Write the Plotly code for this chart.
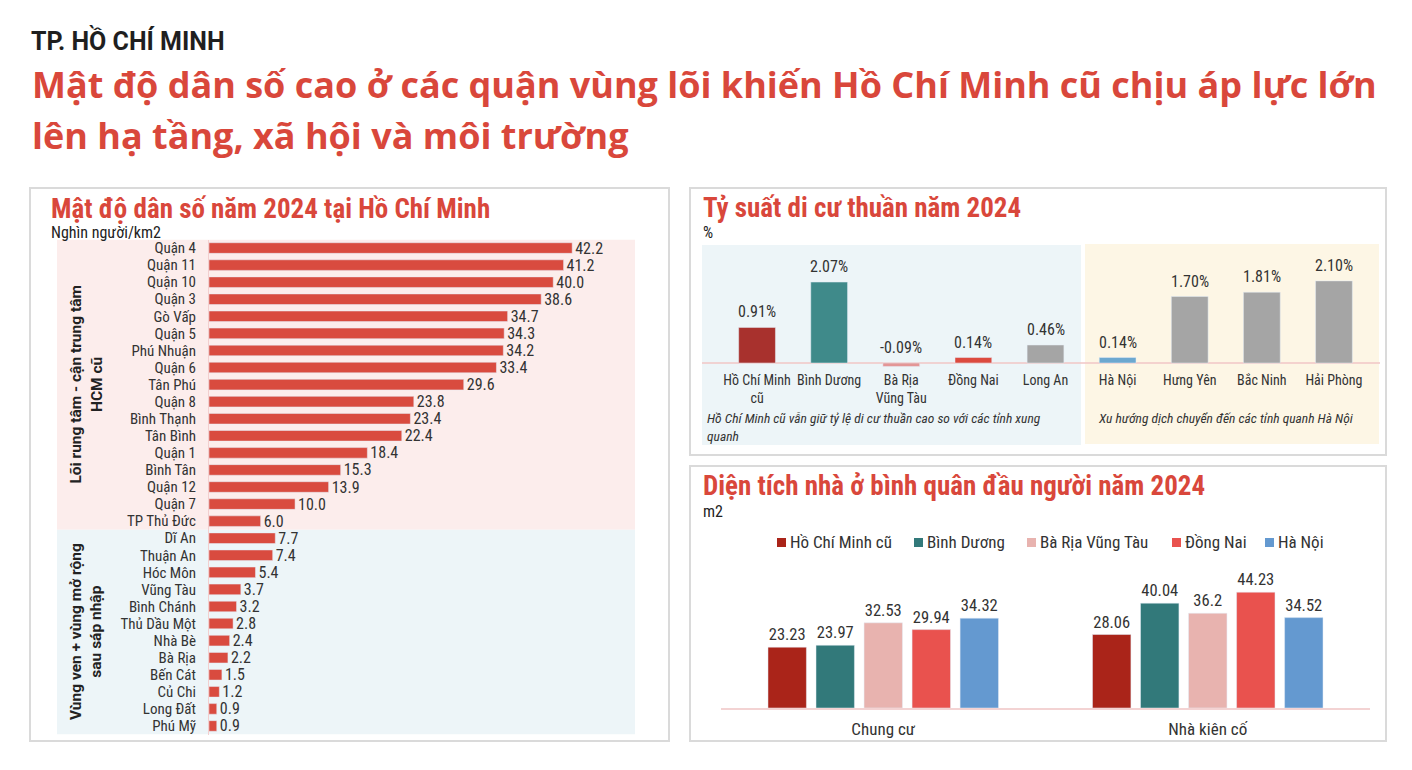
import plotly.graph_objects as go

W, H = 1412, 770
def px(x): return x / W
def py(y): return 1 - y / H

# ---------------- data ----------------
density_districts = ["Quận 4", "Quận 11", "Quận 10", "Quận 3", "Gò Vấp", "Quận 5", "Phú Nhuận",
                     "Quận 6", "Tân Phú", "Quận 8", "Bình Thạnh", "Tân Bình", "Quận 1", "Bình Tân",
                     "Quận 12", "Quận 7", "TP Thủ Đức", "Dĩ An", "Thuận An", "Hóc Môn", "Vũng Tàu",
                     "Bình Chánh", "Thủ Dầu Một", "Nhà Bè", "Bà Rịa", "Bến Cát", "Củ Chi",
                     "Long Đất", "Phú Mỹ"]
density_values = [42.2, 41.2, 40.0, 38.6, 34.7, 34.3, 34.2, 33.4, 29.6, 23.8, 23.4, 22.4, 18.4,
                  15.3, 13.9, 10.0, 6.0, 7.7, 7.4, 5.4, 3.7, 3.2, 2.8, 2.4, 2.2, 1.5, 1.2, 0.9, 0.9]
core_count = 17
group_labels = ["Lõi rung tâm - cận trung tâm<br>HCM cũ", "Vùng ven + vùng mở rộng<br>sau sáp nhập"]

migration_regions = ["Hồ Chí Minh<br>cũ", "Bình Dương", "Bà Rịa<br>Vũng Tàu", "Đồng Nai", "Long An",
                     "Hà Nội", "Hưng Yên", "Bắc Ninh", "Hải Phòng"]
migration_values = [0.91, 2.07, -0.09, 0.14, 0.46, 0.14, 1.70, 1.81, 2.10]
migration_colors = ["#A8312D", "#3F8A8A", "#E39696", "#DC4A3E", "#A5A5A5",
                    "#6CA8D0", "#A5A5A5", "#A5A5A5", "#A5A5A5"]

housing_types = ["Chung cư", "Nhà kiên cố"]
housing_series = ["Hồ Chí Minh cũ", "Bình Dương", "Bà Rịa Vũng Tàu", "Đồng Nai", "Hà Nội"]
housing_values = {
    "Hồ Chí Minh cũ": [23.23, 28.06],
    "Bình Dương": [23.97, 40.04],
    "Bà Rịa Vũng Tàu": [32.53, 36.2],
    "Đồng Nai": [29.94, 44.23],
    "Hà Nội": [34.32, 34.52],
}
housing_colors = ["#AA2419", "#32797A", "#E8B3AF", "#E9524E", "#6499D0"]

# ---------------- style ----------------
RED = "#D9473B"
TXT = "#333333"
COND = "Roboto Condensed, Liberation Sans Narrow, Roboto, sans-serif"

fig = go.Figure()

# Left: population density
fig.add_trace(go.Bar(
    x=density_values, y=density_districts, orientation="h",
    marker=dict(color="#D94B3F"), width=0.62,
    text=density_values, texttemplate="%{x:.1f}", textposition="outside",
    constraintext="none",
    textfont=dict(family=COND, size=16, color=TXT), cliponaxis=False,
    xaxis="x", yaxis="y", showlegend=False, hoverinfo="x+y"))

# Top right: net migration
fig.add_trace(go.Bar(
    x=migration_regions, y=migration_values, marker=dict(color=migration_colors), width=0.51,
    xaxis="x2", yaxis="y2", showlegend=False))

# Bottom right: housing area
for name, col in zip(housing_series, housing_colors):
    fig.add_trace(go.Bar(
        x=housing_types, y=housing_values[name], name=name, marker=dict(color=col),
        text=housing_values[name], texttemplate="%{y}", textposition="outside",
        constraintext="none", showlegend=False,
        textfont=dict(family=COND, size=16.5, color=TXT), cliponaxis=False,
        xaxis="x3", yaxis="y3"))

n = len(density_districts)
fig.update_layout(
    width=W, height=H, margin=dict(l=0, r=0, t=0, b=0),
    paper_bgcolor="white", plot_bgcolor="rgba(0,0,0,0)",
    barmode="group", bargap=0.26, bargroupgap=0.2,
    font=dict(family=COND, color=TXT),
    xaxis=dict(domain=[px(209), px(635)], range=[0, 49.5], visible=False, anchor="y"),
    yaxis=dict(domain=[py(734.5), py(239.5)], range=[n - 0.5, -0.5], anchor="x",
               tickmode="array", tickvals=density_districts, ticktext=density_districts,
               showgrid=False, zeroline=False, showline=True, linecolor="#F2CFCF", linewidth=1,
               ticks="outside", ticklen=9, tickcolor="rgba(0,0,0,0)",
               tickfont=dict(family=COND, size=15, color=TXT)),
    xaxis2=dict(domain=[px(721), px(1370)], range=[-0.5, 8.5], anchor="y2",
                showgrid=False, zeroline=False, showline=False,
                ticks="", tickfont=dict(family=COND, size=14, color=TXT)),
    yaxis2=dict(domain=[py(370), py(250)], range=[-0.179, 2.89], visible=False, anchor="x2"),
    xaxis3=dict(domain=[px(721), px(1370)], range=[-0.5, 1.5], anchor="y3",
                showgrid=False, zeroline=False, showline=True, linecolor="#F3D3D3", linewidth=2,
                ticks="outside", ticklen=5, tickcolor="rgba(0,0,0,0)",
                tickfont=dict(family=COND, size=17, color=TXT)),
    yaxis3=dict(domain=[py(708), py(570)], range=[0, 52.7], visible=False, anchor="x3"),
    showlegend=False,
)

shapes = []
# panel frames
for (x0, y0, x1, y1) in [(30, 188, 669, 741), (690, 188, 1386, 455), (690, 466, 1386, 741)]:
    shapes.append(dict(type="rect", xref="paper", yref="paper", x0=px(x0), x1=px(x1), y0=py(y1), y1=py(y0),
                       line=dict(color="#DADADA", width=2), fillcolor="white", layer="below"))
# left backgrounds
shapes.append(dict(type="rect", xref="paper", yref="y", x0=px(57), x1=px(635), y0=-0.5, y1=core_count - 0.5,
                   line=dict(width=0), fillcolor="#FCEDEC", layer="below"))
shapes.append(dict(type="rect", xref="paper", yref="y", x0=px(57), x1=px(635), y0=core_count - 0.5, y1=n - 0.5,
                   line=dict(width=0), fillcolor="#EDF5F8", layer="below"))
# top-right backgrounds
shapes.append(dict(type="rect", xref="paper", yref="paper", x0=px(702), x1=px(1081), y0=py(445), y1=py(245),
                   line=dict(width=0), fillcolor="#EDF5F8", layer="below"))
shapes.append(dict(type="rect", xref="paper", yref="paper", x0=px(1085), x1=px(1379), y0=py(444), y1=py(244),
                   line=dict(width=0), fillcolor="#FDF6E5", layer="below"))
# zero line top-right
shapes.append(dict(type="line", xref="paper", yref="y2", x0=px(702), x1=px(1380), y0=0, y1=0,
                   line=dict(color="#F0C6C6", width=1.5), layer="below"))

ann = []
# legend for bottom-right chart (square markers + labels)
legend_x = [777, 914, 1027, 1172, 1265]
for name, col, lx in zip(housing_series, housing_colors, legend_x):
    shapes.append(dict(type="rect", xref="paper", yref="paper", x0=px(lx), x1=px(lx + 9),
                       y0=py(547), y1=py(538), line=dict(width=0), fillcolor=col))
    ann.append(dict(text=name, x=px(lx + 11), y=py(542), xref="paper", yref="paper",
                    xanchor="left", yanchor="middle", showarrow=False,
                    font=dict(family=COND, size=17, color=TXT)))
fig.update_layout(shapes=shapes)

ann.append(dict(text="<b>TP. HỒ CHÍ MINH</b>", x=px(29), y=py(40), xref="paper", yref="paper",
                xanchor="left", yanchor="middle", showarrow=False,
                font=dict(family="Roboto", size=25, color="#1F1F1F")))
ann.append(dict(text="<b>Mật độ dân số cao ở các quận vùng lõi khiến Hồ Chí Minh cũ chịu áp lực lớn</b>",
                x=px(30), y=py(84), xref="paper", yref="paper", xanchor="left", yanchor="middle",
                showarrow=False, font=dict(family="Open Sans", size=36, color=RED)))
ann.append(dict(text="<b>lên hạ tầng, xã hội và môi trường</b>",
                x=px(30), y=py(135), xref="paper", yref="paper", xanchor="left", yanchor="middle",
                showarrow=False, font=dict(family="Open Sans", size=36, color=RED)))
# panel titles
for t, x, y, u, uy in [("Mật độ dân số năm 2024 tại Hồ Chí Minh", 50, 209, "Nghìn người/km2", 233),
                       ("Tỷ suất di cư thuần năm 2024", 702, 208, "%", 233),
                       ("Diện tích nhà ở bình quân đầu người năm 2024", 702, 486, "m2", 511)]:
    ann.append(dict(text=f"<b>{t}</b>", x=px(x - 1), y=py(y), xref="paper", yref="paper",
                    xanchor="left", yanchor="middle", showarrow=False,
                    font=dict(family=COND, size=27, color=RED)))
    ann.append(dict(text=u, x=px(x - 1), y=py(uy), xref="paper", yref="paper",
                    xanchor="left", yanchor="middle", showarrow=False,
                    font=dict(family=COND, size=16, color="#222")))
# group labels (left)
for lab, yc in zip(group_labels, [(core_count - 1) / 2, (core_count + n - 1) / 2]):
    ann.append(dict(text=f"<b>{lab}</b>", x=px(86), y=yc, xref="paper", yref="y",
                    xanchor="center", yanchor="middle", textangle=-90, showarrow=False,
                    font=dict(family="Roboto", size=15.5, color="#222")))
# migration value labels
for cat, v in zip(migration_regions, migration_values):
    ann.append(dict(text=f"{v:.2f}%", x=cat, y=max(v, 0), xref="x2", yref="y2",
                    xanchor="center", yanchor="bottom", yshift=4, showarrow=False,
                    font=dict(family=COND, size=16, color=TXT)))
# notes
ann.append(dict(text="<i>Hồ Chí Minh cũ vẫn giữ tỷ lệ di cư thuần cao so với các tỉnh xung<br>quanh</i>",
                x=px(705), y=py(408), xref="paper", yref="paper", xanchor="left", yanchor="top",
                align="left", showarrow=False, font=dict(family=COND, size=13.5, color=TXT)))
ann.append(dict(text="<i>Xu hướng dịch chuyển đến các tỉnh quanh Hà Nội</i>",
                x=px(1096), y=py(408), xref="paper", yref="paper", xanchor="left", yanchor="top",
                align="left", showarrow=False, font=dict(family=COND, size=13.5, color=TXT)))
fig.update_layout(annotations=ann)

fig.write_html("out.html")
